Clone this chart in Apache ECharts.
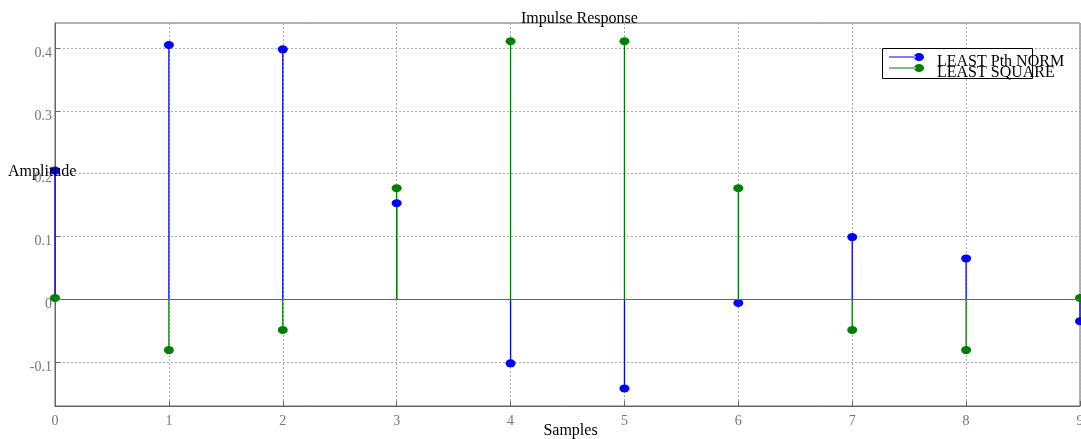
<!DOCTYPE html>
<html>
<head>
<meta charset="utf-8">
<script src="https://cdn.jsdelivr.net/npm/echarts@6/dist/echarts.min.js"></script>
<style>
  html, body { margin: 0; padding: 0; background: #fff; }
  #chart { width: 1081px; height: 439px; }
</style>
</head>
<body>
<div id="chart"></div>
<script>
// sample index
const samples = [0, 1, 2, 3, 4, 5, 6, 7, 8, 9]
// LEAST Pth NORM
const pthNorm = [0.205, 0.405, 0.398, 0.153, -0.102, -0.142, -0.006, 0.099, 0.065, -0.035]
// LEAST SQUARE
const leastSquare = [0.002, -0.081, -0.049, 0.177, 0.411, 0.411, 0.177, -0.049, -0.081, 0.002]

const serif = 'Liberation Serif'
const blue = '#0000ff'
const green = '#008000'

// stem from y=0 to the value
const stemRender = (color) => (params, api) => {
  const p0 = api.coord([api.value(0), 0])
  const p1 = api.coord([api.value(0), api.value(1)])
  return {
    type: 'line',
    shape: { x1: p0[0], y1: p0[1], x2: p1[0], y2: p1[1] },
    style: { stroke: color, lineWidth: 1.3 }
  }
}

const pairs = (vals) => samples.map((s, i) => [s, vals[i]])

// line + marker in the upper half, so the label sits a bit lower than the marker
const legendIcon = 'path://M0,0 M0,20 M0,4.6 H27 V5.4 H0 Z M25,5 a5,4 0 1,0 10,0 a5,4 0 1,0 -10,0 Z'

const chart = echarts.init(document.getElementById('chart'))
chart.setOption({
  animation: false,
  title: {
    text: 'Impulse Response',
    left: 516,
    top: 6,
    textStyle: { fontFamily: serif, fontSize: 16, fontWeight: 'normal', color: '#000' }
  },
  grid: {
    left: 55, right: 1, top: 23, bottom: 33,
    outerBoundsMode: 'none',
    containLabel: false,
    show: true, borderColor: '#666', borderWidth: 1
  },
  legend: {
    orient: 'vertical',
    left: 889,
    top: 52,
    padding: 0,
    itemWidth: 35,
    itemHeight: 20,
    itemGap: -9,
    z: 6,
    textStyle: { fontFamily: serif, fontSize: 16, color: '#000', padding: [0, 0, 0, 8] },
    data: [
      { name: 'LEAST Pth NORM', icon: legendIcon, itemStyle: { color: blue } },
      { name: 'LEAST SQUARE', icon: legendIcon, itemStyle: { color: green } }
    ]
  },
  graphic: [
    {
      type: 'rect', left: 882, top: 48, z: 5,
      shape: { width: 150, height: 30 },
      style: { fill: '#fff', stroke: '#000', lineWidth: 1 }
    },
    {
      type: 'text', left: 8, top: 164, z: 5,
      style: { text: 'Amplitude', fontFamily: serif, fontSize: 16, fill: '#000' }
    }
  ],
  xAxis: {
    type: 'value',
    min: 0, max: 9, interval: 1,
    name: 'Samples',
    nameLocation: 'middle',
    nameGap: 17,
    nameMoveOverlap: false,
    nameTextStyle: { fontFamily: serif, fontSize: 16, color: '#000', padding: [0, 0, 0, 6] },
    axisLine: { onZero: false, lineStyle: { color: '#666' } },
    axisTick: { inside: true, length: 5, lineStyle: { color: '#666' } },
    axisLabel: { fontFamily: serif, fontSize: 14, color: '#777', margin: 8 },
    splitLine: { show: true, lineStyle: { color: '#aaa', type: [2, 2] } }
  },
  yAxis: {
    type: 'value',
    min: -0.17, max: 0.44, splitNumber: 6,
    axisLine: { show: true, lineStyle: { color: '#666' } },
    axisTick: { show: true, inside: true, length: 5, lineStyle: { color: '#666' } },
    axisLabel: {
      fontFamily: serif, fontSize: 14, color: '#777', margin: 3,
      showMinLabel: false, showMaxLabel: false,
      verticalAlign: 'top', padding: [-2, 0, 0, 0]
    },
    splitLine: { show: true, lineStyle: { color: '#aaa', type: [2, 2] } }
  },
  series: [
    {
      name: 'LEAST Pth NORM',
      type: 'custom',
      renderItem: stemRender(blue),
      data: pairs(pthNorm),
      z: 2,
      markLine: {
        silent: true, symbol: 'none', label: { show: false },
        lineStyle: { color: '#666', type: 'solid', width: 1 },
        data: [{ yAxis: 0 }]
      }
    },
    {
      name: 'LEAST SQUARE',
      type: 'custom',
      renderItem: stemRender(green),
      data: pairs(leastSquare),
      z: 3
    },
    {
      name: 'LEAST Pth NORM',
      type: 'scatter',
      symbol: 'circle',
      symbolSize: [10, 8],
      itemStyle: { color: blue, opacity: 1 },
      data: pairs(pthNorm),
      z: 4
    },
    {
      name: 'LEAST SQUARE',
      type: 'scatter',
      symbol: 'circle',
      symbolSize: [10, 8],
      itemStyle: { color: green, opacity: 1 },
      data: pairs(leastSquare),
      z: 4
    }
  ]
})
</script>
</body>
</html>
